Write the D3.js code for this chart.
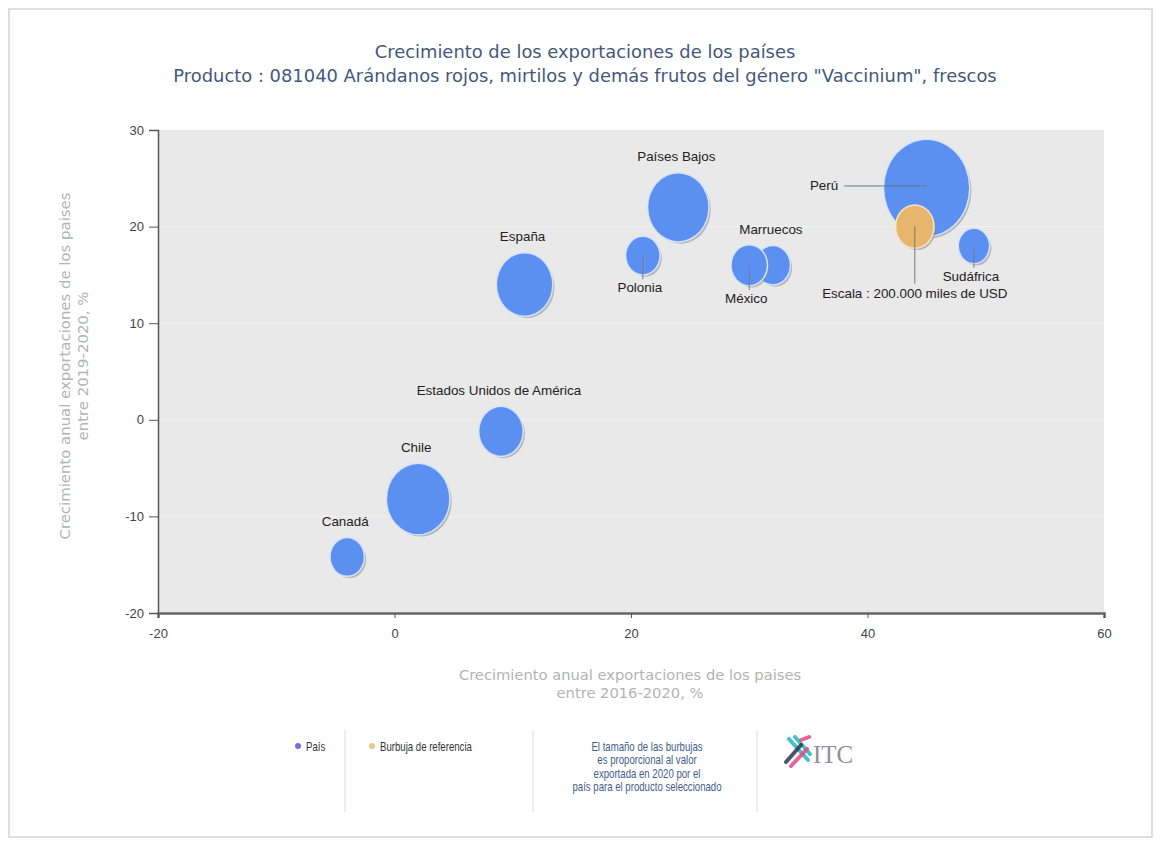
<!DOCTYPE html>
<html><head><meta charset="utf-8">
<script src="https://cdn.jsdelivr.net/npm/d3@7"></script>
<style>body{margin:0;background:#fff;} svg{display:block;}</style>
</head><body><svg id="c" width="1160" height="844"></svg>
<script>
// ---- data (drawing order) ----
const countries   = ["Perú","Chile","Países Bajos","España","Estados Unidos de América","Marruecos","México","Polonia","Canadá","Sudáfrica"];
const growth5y    = [45, 2, 24, 11, 9, 32, 30, 21, -4, 49];          // 2016-2020, %
const growth1y    = [24, -8.2, 22, 14, -1.2, 16, 16, 17, -14.2, 18];  // 2019-2020, %
const exportValue = [1050000, 562000, 526000, 442000, 270000, 165000, 179000, 159000, 159000, 131000]; // miles USD
const labelSide   = ["left","top","top","top","top","top","bottom","bottom","top","bottom"];
const refLabel = "Escala : 200.000 miles de USD";
const refX = 44, refY = 20, refValue = 200000;
const xTicks = [-20, 0, 20, 40, 60];
const yTicks = [-20, -10, 0, 10, 20, 30];
const titleLines = ["Crecimiento de los exportaciones de los países",
  "Producto : 081040 Arándanos rojos, mirtilos y demás frutos del género \"Vaccinium\", frescos"];
const xTitle = ["Crecimiento anual exportaciones de los paises", "entre 2016-2020, %"];
const yTitle = ["Crecimiento anual exportaciones de los paises", "entre 2019-2020, %"];
const legendItems = ["País", "Burbuja de referencia"];
const noteLines = ["El tamaño de las burbujas","es proporcional al valor","exportada en 2020 por el","país para el producto seleccionado"];

const svg = d3.select("#c");
const sans = "'Liberation Sans',Arial,sans-serif";

// frame
svg.append("rect").attr("x",9).attr("y",9).attr("width",1143).attr("height",828)
  .attr("fill","none").attr("stroke","#dedede").attr("stroke-width",2);

const x = d3.scaleLinear().domain([-20,60]).range([158,1104]);
const y = d3.scaleLinear().domain([-20,30]).range([613,130]);
const r = d3.scaleSqrt().domain([0,200000]).range([0,18.5]);
const ASPECT = 1.13;
const fmt = d => String(d);

// title
svg.append("g").selectAll("text").data(titleLines).join("text")
  .attr("x",585).attr("y",(d,i)=>58+i*24).attr("text-anchor","middle")
  .attr("font-family","'DejaVu Sans',sans-serif").attr("font-size",17.9)
  .attr("fill","#44587a").text(d=>d);

// plot bg
svg.append("rect").attr("x",x(-20)).attr("y",y(30)).attr("width",x(60)-x(-20)).attr("height",y(-20)-y(30))
  .attr("fill","#e9e9e9");
svg.append("g").selectAll("line").data(yTicks.slice(1,-1)).join("line")
  .attr("x1",x(-20)).attr("x2",x(60)).attr("y1",d=>y(d)).attr("y2",d=>y(d))
  .attr("stroke","#f1f1f1").attr("stroke-width",1);

// axes
const gy = svg.append("g").attr("transform",`translate(${x(-20)},0)`)
  .call(d3.axisLeft(y).tickValues(yTicks).tickSize(9).tickPadding(5).tickFormat(fmt));
gy.select(".domain").attr("stroke","#555").attr("stroke-width",1.5);
gy.selectAll(".tick line").attr("stroke","#555");
gy.selectAll("text").attr("font-family",sans).attr("font-size",13).attr("fill","#444");

const gx = svg.append("g").attr("transform",`translate(0,${y(-20)})`)
  .call(d3.axisBottom(x).tickValues(xTicks).tickSize(5).tickPadding(11).tickFormat(fmt));
gx.select(".domain").attr("stroke","#666").attr("stroke-width",2.5);
gx.selectAll(".tick line").attr("stroke","#555");
gx.selectAll("text").attr("font-family",sans).attr("font-size",13).attr("fill","#444");

// axis titles
svg.append("g").selectAll("text").data(xTitle).join("text")
  .attr("x",630).attr("y",(d,i)=>680+i*18).attr("text-anchor","middle")
  .attr("font-family","'DejaVu Sans',sans-serif").attr("font-size",14.7).attr("fill","#b3b3b3").text(d=>d);
svg.append("g").attr("transform","translate(70,366) rotate(-90)")
  .selectAll("text").data(yTitle).join("text")
  .attr("x",0).attr("y",(d,i)=>i*18).attr("text-anchor","middle")
  .attr("font-family","'DejaVu Sans',sans-serif").attr("font-size",14.9).attr("fill","#b3b3b3").text(d=>d);

// bubbles
const data = countries.map((c,i)=>({name:c, gx:growth5y[i], gy:growth1y[i], v:exportValue[i], side:labelSide[i]}));
const gB = svg.append("g");
function bubble(g, d, fill, halo){
  const cx = x(d.gx), cy = y(d.gy), rx = r(d.v), ry = r(d.v)*ASPECT;
  g.append("ellipse").attr("cx",cx+2.5).attr("cy",cy+2.5).attr("rx",rx).attr("ry",ry)
    .attr("fill","#8d8d9a").attr("opacity",0.55);
  g.append("ellipse").attr("cx",cx).attr("cy",cy).attr("rx",rx+1.5).attr("ry",ry+1.5)
    .attr("fill",halo);
  g.append("ellipse").attr("cx",cx).attr("cy",cy).attr("rx",rx).attr("ry",ry).attr("fill",fill);
}
data.forEach(d=>bubble(gB,d,"#5b8ff0","#d6e4fb"));
const ref = {name:refLabel, gx:refX, gy:refY, v:refValue};
bubble(gB, ref, "#e8b56c", "#f7e6cc");

// labels
const gL = svg.append("g").attr("font-family",sans).attr("font-size",13.4).attr("fill","#222");
data.forEach(d=>{
  const cx = x(d.gx), cy = y(d.gy), ry = r(d.v)*ASPECT, rx = r(d.v);
  if(d.side==="top"){
    gL.append("text").attr("x",cx-2).attr("y",cy-ry-12).attr("text-anchor","middle").text(d.name);
  } else if(d.side==="bottom"){
    gL.append("line").attr("x1",cx).attr("x2",cx).attr("y1",cy).attr("y2",cy+ry+5)
      .attr("stroke","#6f7f9a").attr("stroke-width",1);
    gL.append("text").attr("x",cx-3).attr("y",cy+ry+18).attr("text-anchor","middle").text(d.name);
  } else {
    gL.append("line").attr("x1",cx-rx-40).attr("x2",cx).attr("y1",cy-2).attr("y2",cy-2)
      .attr("stroke","#6a7590").attr("stroke-width",1);
    gL.append("text").attr("x",cx-rx-46).attr("y",cy+2).attr("text-anchor","end").text(d.name);
  }
});
{
  const cx = x(ref.gx), cy = y(ref.gy), ry = r(ref.v)*ASPECT;
  gL.append("line").attr("x1",cx).attr("x2",cx).attr("y1",cy).attr("y2",cy+ry+36)
    .attr("stroke","#7a7a7a").attr("stroke-width",1);
  gL.append("text").attr("x",cx).attr("y",cy+ry+50).attr("text-anchor","middle").text(ref.name);
}

// legend
const lg = svg.append("g").attr("font-family",sans).attr("font-size",13).attr("fill","#333");
const legendColors = ["#6f73d6","#ecc68a"];
const legendX = [298, 372];
legendItems.forEach((t,i)=>{
  lg.append("circle").attr("cx",legendX[i]).attr("cy",746).attr("r",3).attr("fill",legendColors[i]);
  lg.append("text").attr("transform",`translate(${legendX[i]+8},751) scale(0.74,1)`).text(t);
});
[345,533,757].forEach(sx=>{
  lg.append("line").attr("x1",sx).attr("x2",sx).attr("y1",730).attr("y2",812).attr("stroke","#dcdcdc");
});
lg.append("g").selectAll("text").data(noteLines).join("text")
  .attr("transform",(d,i)=>`translate(647,${751+i*13.4}) scale(0.74,1)`).attr("text-anchor","middle")
  .attr("font-size",13).attr("fill","#3f5c8c").text(d=>d);

// ITC logo
const logo = svg.append("g").attr("transform","translate(798,752)");
const strokes = [
  {x1:-9,y1:-13,x2:10,y2:8,c:"#2bb5c4"},
  {x1:-3,y1:-15,x2:12,y2:2,c:"#2bb5c4"},
  {x1:-12,y1:10,x2:3,y2:-7,c:"#2d3550"},
  {x1:-7,y1:14,x2:9,y2:-3,c:"#e24a86"},
  {x1:3,y1:-12,x2:11,y2:-15,c:"#e24a86"}
];
logo.selectAll("line").data(strokes).join("line")
  .attr("x1",d=>d.x1).attr("y1",d=>d.y1).attr("x2",d=>d.x2).attr("y2",d=>d.y2)
  .attr("stroke",d=>d.c).attr("stroke-width",4).attr("stroke-linecap","round").attr("opacity",0.85);
svg.append("text").attr("x",813).attr("y",763).attr("font-family","'Liberation Serif',serif")
  .attr("font-size",25).attr("fill","#8f8f9e").text("ITC");
</script></body></html>
